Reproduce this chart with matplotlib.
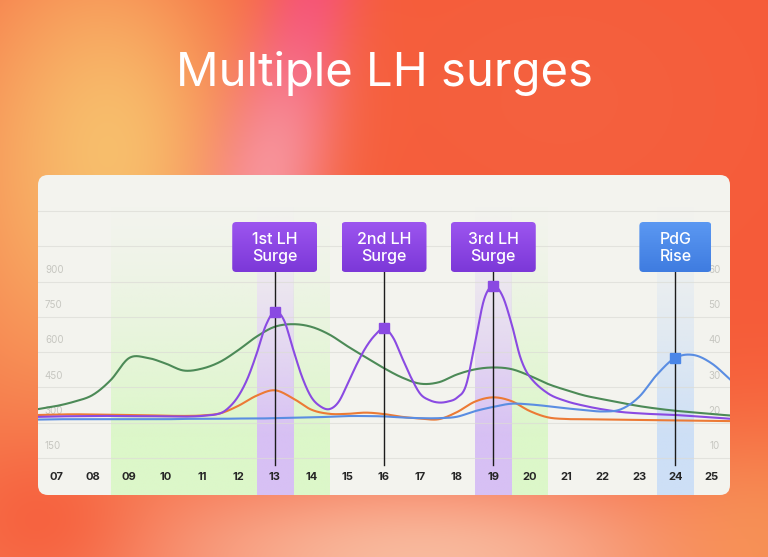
#!/usr/bin/env python3
"""Multiple LH surges: hormone curves over cycle days with surge callouts."""
import numpy as np
import matplotlib
matplotlib.use('Agg')
import matplotlib.pyplot as plt
from matplotlib.patches import FancyBboxPatch

plt.rcParams['font.family'] = ['Inter', 'DejaVu Sans']

# ---- data ----
days = np.arange(6.5, 25.51, 0.5)          # half-day samples
day_ticks = list(range(7, 26))
day_labels = [f'{d:02d}' for d in day_ticks]

# LH needs finer samples around its peaks
lh_x = [6.5, 7, 7.5, 8, 8.5, 9, 9.5, 10, 10.5, 11, 11.5, 11.75, 12, 12.25, 12.5, 12.75,
        13, 13.25, 13.5, 13.75, 14, 14.25, 14.5, 14.75, 15, 15.25, 15.5, 15.75, 16,
        16.25, 16.5, 16.75, 17, 17.25, 17.5, 17.75, 18, 18.25, 18.5, 18.75, 19, 19.25,
        19.5, 19.75, 20, 20.5, 21, 21.5, 22, 22.5, 23, 23.5, 24, 24.5, 25, 25.5]
lh = [325, 327, 328, 329, 329, 328, 328, 327, 326, 329, 340, 366, 413, 487, 592, 712,
      772, 737, 615, 495, 410, 370, 358, 388, 465, 548, 620, 672, 701,
      662, 575, 490, 422, 396, 386, 390, 406, 458, 640, 825, 882, 840,
      722, 575, 496, 425, 392, 372, 357, 346, 340, 336, 333, 328, 323, 317]
e3g = [358, 371, 390, 418, 482, 575, 576, 552, 522, 530, 559, 609, 666, 708, 719,
       708, 675, 625, 578, 532, 492, 466, 472, 505, 527, 535, 528, 500, 465, 439,
       416, 400, 385, 371, 360, 351, 344, 337, 331]
fsh = [333, 335, 336, 335, 334, 333, 332, 330, 329, 331, 340, 372, 415, 438, 404,
       356, 338, 338, 343, 337, 325, 318, 315, 345, 390, 408, 392, 350, 323, 316,
       315, 314, 313, 312, 311, 310, 309, 308, 307]
pdg = [20.9, 21.0, 21.0, 21.0, 21.0, 21.0, 21.0, 21.0, 21.1, 21.1, 21.1, 21.2, 21.2,
       21.3, 21.4, 21.5, 21.7, 21.9, 21.9, 21.8, 21.5, 21.3, 21.3, 21.7, 23.3, 24.5,
       25.4, 25.2, 24.7, 24.1, 23.6, 23.2, 23.8, 27.3, 33.7, 38.4, 39.2, 36.8, 32.3]

left_ticks = [150, 300, 450, 600, 750, 900]
right_ticks = [10, 20, 30, 40, 50, 60]
grid_vals = [150, 300, 450, 600, 750, 900, 1050, 1200]

green_days = [(8.5, 12.5), (13.5, 14.5), (19.5, 20.5)]
lh_days = [13, 16, 19]
lh_names = ['1st LH\nSurge', '2nd LH\nSurge', '3rd LH\nSurge']
pdg_day = 24
pdg_name = 'PdG\nRise'


def smooth(x, y, n=24):
    # catmull-rom style cubic through the read points
    x = np.asarray(x, float); y = np.asarray(y, float)
    h = np.diff(x)
    m = np.zeros_like(y)
    m[1:-1] = (y[2:] - y[:-2]) / (x[2:] - x[:-2])
    m[0] = (y[1] - y[0]) / h[0]; m[-1] = (y[-1] - y[-2]) / h[-1]
    xs, ys = [], []
    for i in range(len(h)):
        t = np.linspace(0, 1, n, endpoint=False)
        h00 = 2*t**3 - 3*t**2 + 1; h10 = t**3 - 2*t**2 + t
        h01 = -2*t**3 + 3*t**2;    h11 = t**3 - t**2
        xs.append(x[i] + t*h[i])
        ys.append(h00*y[i] + h10*h[i]*m[i] + h01*y[i+1] + h11*h[i]*m[i+1])
    xs.append([x[-1]]); ys.append([y[-1]])
    return np.concatenate(xs), np.concatenate(ys)


W, H = 768, 557
fig = plt.figure(figsize=(W/100, H/100), dpi=100)

# ---- background gradient ----
bg = fig.add_axes([0, 0, 1, 1], zorder=0)
yy, xx = np.mgrid[0:H, 0:W].astype(float)
img = np.ones((H, W, 3)) * np.array([246, 90, 56]) / 255


def blob(cx, cy, sx, sy, col, a, rot=0.0):
    c, s = np.cos(rot), np.sin(rot)
    dx, dy = xx - cx, yy - cy
    u, v = c*dx + s*dy, -s*dx + c*dy
    w = a * np.exp(-(u**2/(2*sx**2) + v**2/(2*sy**2)))
    return w[..., None], np.array(matplotlib.colors.to_rgb(col))


for args in [(0, 250, 120, 260, '#f78a55', 0.8),
             (110, 150, 100, 150, '#f8c26e', 0.95),
             (305, 30, 32, 150, '#f5487a', 0.9, 0.22),
             (270, 170, 40, 90, '#f8a3ac', 0.8, 0.22),
             (420, 560, 230, 70, '#f9bea2', 0.95),
             (40, 520, 70, 60, '#f65c3a', 0.8),
             (770, 540, 90, 90, '#f79a55', 0.7),
             (560, 100, 160, 120, '#f26a48', 0.4)]:
    w, col = blob(*args)
    img = img*(1 - w) + col*w
bg.imshow(img, extent=(0, W, H, 0), aspect='auto')
bg.set_xlim(0, W); bg.set_ylim(H, 0); bg.axis('off')
bg.add_patch(FancyBboxPatch((38, 175), 692, 320, boxstyle='round,pad=0,rounding_size=10',
                            facecolor='#f3f3ee', edgecolor='none'))
bg.text(W/2, 73, 'Multiple LH surges', color='white', fontsize=34,
        ha='center', va='center')

# ---- chart ----
ax = fig.add_axes([38/W, 1 - 495/H, 692/W, 320/H], zorder=1)
ax.patch.set_visible(False)
YLO, YHI = -7, 1353
band_top = 1230


def band(x0, x1, color):
    prof = np.linspace(1, 0, 200)[:, None]
    rgba = np.zeros((200, 1, 4))
    rgba[..., :3] = matplotlib.colors.to_rgb(color)
    rgba[..., 3] = np.clip(prof * 1.25, 0, 1) ** 1.3
    ax.imshow(rgba, extent=(x0, x1, YLO, band_top), origin='lower',
              aspect='auto', zorder=0, interpolation='bilinear')


for x0, x1 in green_days:
    band(x0, x1, '#dcf7c9')
for d in lh_days[::2]:
    band(d - 0.5, d + 0.5, '#d7c0f4')
band(pdg_day - 0.5, pdg_day + 0.5, '#cddff6')

for g in grid_vals:
    ax.axhline(g, color='#dcdcd6', lw=0.8, alpha=0.7, zorder=1)

for v in left_ticks:
    ax.text(6.69, v + 50, str(v), color='#c6c6c0', fontsize=7, va='center', ha='left')
for v in right_ticks:
    ax.text(25.08, v*15 + 50, str(v), color='#c6c6c0', fontsize=7, va='center', ha='center')
for d, lab in zip(day_ticks, day_labels):
    ax.text(d, 69, lab, color='#262626', fontsize=8, fontweight='bold',
            ha='center', va='center')

sx, sy = smooth(days, e3g)
ax.plot(sx, sy, color='#4c8a57', lw=1.5, zorder=3)
sx, sy = smooth(days, fsh)
ax.plot(sx, sy, color='#ec7a35', lw=1.5, zorder=3)
sx, sy = smooth(lh_x, lh)
ax.plot(sx, sy, color='#8a4ae2', lw=1.5, zorder=4)

ax2 = ax.twinx()
ax2.patch.set_visible(False)
sx, sy = smooth(days, pdg)
ax2.plot(sx, sy, color='#5a8de2', lw=1.5, zorder=3)

ax.set_xlim(6.5, 25.5); ax.set_ylim(YLO, YHI)
ax2.set_ylim(YLO/15, YHI/15)
ax.axis('off'); ax2.axis('off')

# callout boxes (pixel overlay)
ov = fig.add_axes([0, 0, 1, 1], zorder=3)
ov.set_xlim(0, W); ov.set_ylim(H, 0); ov.axis('off'); ov.patch.set_visible(False)
box_top, box_bot, line_end = 222, 272, 465


def to_px(axis, x, y):
    px, py = axis.transData.transform((x, y))
    return px, H - py


def callout(axis, day, val, text, width, ctop, cbot, mcolor):
    cx, my = to_px(axis, day, val)
    ov.plot([cx, cx], [box_bot, line_end], color='#1c1c1c', lw=1.0, zorder=2)
    ov.plot([cx], [my], marker='s', ms=6.5, color=mcolor, zorder=3)
    patch = FancyBboxPatch((cx - width/2, box_top), width, box_bot - box_top,
                           boxstyle='round,pad=0,rounding_size=4',
                           facecolor='none', edgecolor='none', zorder=4)
    ov.add_patch(patch)
    grad = np.zeros((50, 1, 3))
    c1 = np.array(matplotlib.colors.to_rgb(ctop)); c2 = np.array(matplotlib.colors.to_rgb(cbot))
    grad[:, 0, :] = c1 + (c2 - c1) * np.linspace(0, 1, 50)[:, None]
    im = ov.imshow(grad, extent=(cx - width/2, cx + width/2, box_bot, box_top),
                   aspect='auto', zorder=4, interpolation='bilinear')
    im.set_clip_path(patch)
    ov.text(cx, (box_top + box_bot)/2 + 1, text, color='white', fontsize=11.5,
            fontweight='medium', ha='center', va='center', linespacing=1.15, zorder=5)


for d, name in zip(lh_days, lh_names):
    callout(ax, d, lh[lh_x.index(d)], name, 85, '#9c55ef', '#7c38d8', '#8a4ae2')
callout(ax2, pdg_day, pdg[list(days).index(pdg_day)], pdg_name, 72, '#5b98f2', '#3f7ce0', '#4a86e8')
ov.set_xlim(0, W); ov.set_ylim(H, 0)

fig.savefig('out.png', dpi=100)
